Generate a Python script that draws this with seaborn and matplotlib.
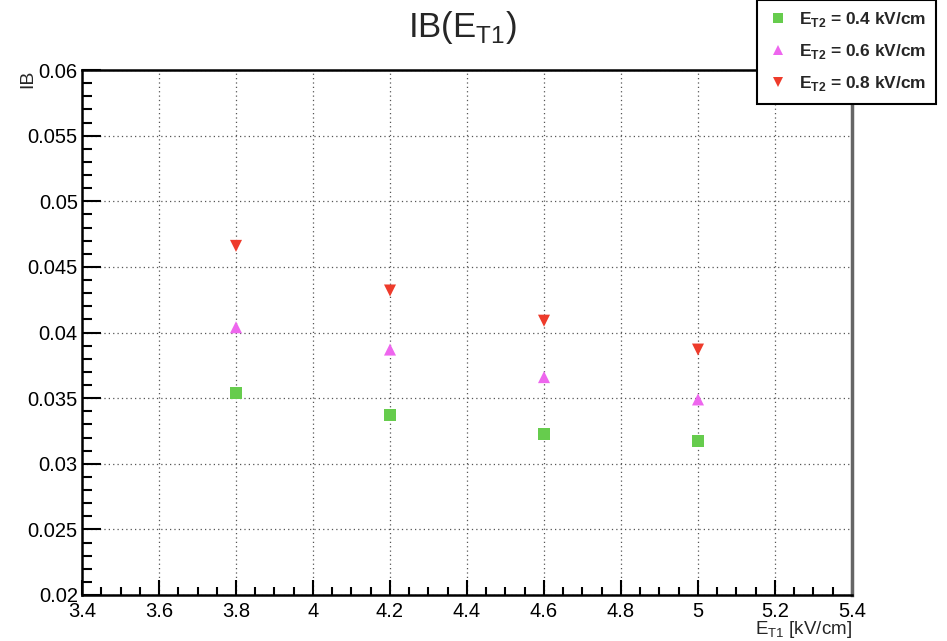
import numpy as np
import pandas as pd
import matplotlib
matplotlib.use('Agg')
import matplotlib.pyplot as plt
from matplotlib.ticker import MultipleLocator
import seaborn as sns

# values
e_t1 = [3.8, 4.2, 4.6, 5.0]
ib_04 = [0.0354, 0.0337, 0.0323, 0.0317]
ib_06 = [0.0404, 0.0387, 0.0366, 0.0349]
ib_08 = [0.0466, 0.0432, 0.0409, 0.0387]
series_names = [r'E$_{\mathbf{T2}}$ = 0.4 kV/cm',
                r'E$_{\mathbf{T2}}$ = 0.6 kV/cm',
                r'E$_{\mathbf{T2}}$ = 0.8 kV/cm']
series_colors = ['#66cc4d', '#ee66ee', '#ee3b2b']
series_markers = ['s', '^', 'v']
x_ticklabels = ['3.4', '3.6', '3.8', '4', '4.2', '4.4', '4.6', '4.8', '5', '5.2', '5.4']
y_ticklabels = ['0.02', '0.025', '0.03', '0.035', '0.04', '0.045', '0.05', '0.055', '0.06']

sns.set_style('white')
plt.rcParams['font.family'] = ['Liberation Sans', 'DejaVu Sans']
plt.rcParams['mathtext.fontset'] = 'custom'
plt.rcParams['mathtext.rm'] = 'Liberation Sans'
plt.rcParams['mathtext.bf'] = 'Liberation Sans:bold'

df = pd.DataFrame({
    'E_T1': e_t1 * 3,
    'IB': ib_04 + ib_06 + ib_08,
    'series': [series_names[0]] * 4 + [series_names[1]] * 4 + [series_names[2]] * 4,
})

fig = plt.figure(figsize=(9.47, 6.41), dpi=100)
ax = fig.add_axes([82 / 947, 1 - 595 / 641, (852 - 82) / 947, (595 - 70) / 641])

sns.scatterplot(data=df, x='E_T1', y='IB', hue='series', style='series',
                hue_order=series_names, style_order=series_names,
                palette=dict(zip(series_names, series_colors)),
                markers=dict(zip(series_names, series_markers)),
                s=75, linewidth=0, ax=ax, legend=True, zorder=3)

ax.set_xlim(3.4, 5.4)
ax.set_ylim(0.02, 0.06)
ax.set_xticks(np.arange(3.4, 5.41, 0.2))
ax.set_xticklabels(x_ticklabels)
ax.set_yticks(np.arange(0.02, 0.0601, 0.005))
ax.set_yticklabels(y_ticklabels)
ax.xaxis.set_minor_locator(MultipleLocator(0.05))
ax.yaxis.set_minor_locator(MultipleLocator(0.001))

ax.tick_params(axis='both', which='both', direction='in', bottom=True, left=True,
               top=False, right=False, labelsize=14.5, colors='black')
ax.tick_params(axis='y', which='major', length=14, width=1.5, pad=3)
ax.tick_params(axis='y', which='minor', length=7, width=1.5)
ax.tick_params(axis='x', which='major', length=11, width=1.5, pad=5)
ax.tick_params(axis='x', which='minor', length=6, width=1.5)
ax.grid(True, which='major', linestyle=(0, (1, 2.5)), color='#555555', linewidth=0.9)

for side in ['left', 'bottom', 'top']:
    ax.spines[side].set_color('black')
    ax.spines[side].set_linewidth(1.8)
ax.spines['right'].set_color('#666666')
ax.spines['right'].set_linewidth(2.5)

ax.set_xlabel('')
ax.set_ylabel('')
fig.text(462 / 947, 1 - 27 / 641, r'IB(E$_{\mathrm{T1}}$)', ha='center', va='center', fontsize=25)
fig.text(28 / 947, 1 - 70 / 641, 'IB', rotation=90, ha='center', va='top', fontsize=14)
fig.text(852 / 947, 1 / 641, r'E$_{\mathrm{T1}}$ [kV/cm]', ha='right', va='bottom', fontsize=13.5)

handles, labels = ax.get_legend_handles_labels()
ax.get_legend().remove()
leg = fig.legend(handles, labels, loc='upper left', bbox_to_anchor=(757 / 947, 1.0),
                 frameon=True, fancybox=False, edgecolor='black', framealpha=1,
                 borderaxespad=0, borderpad=0.6, labelspacing=0.75, handletextpad=0.6,
                 handlelength=1.2, prop={'weight': 'bold', 'size': 12.5}, markerscale=0.85)
leg.get_frame().set_linewidth(1.5)

fig.savefig('out.png', dpi=100)
